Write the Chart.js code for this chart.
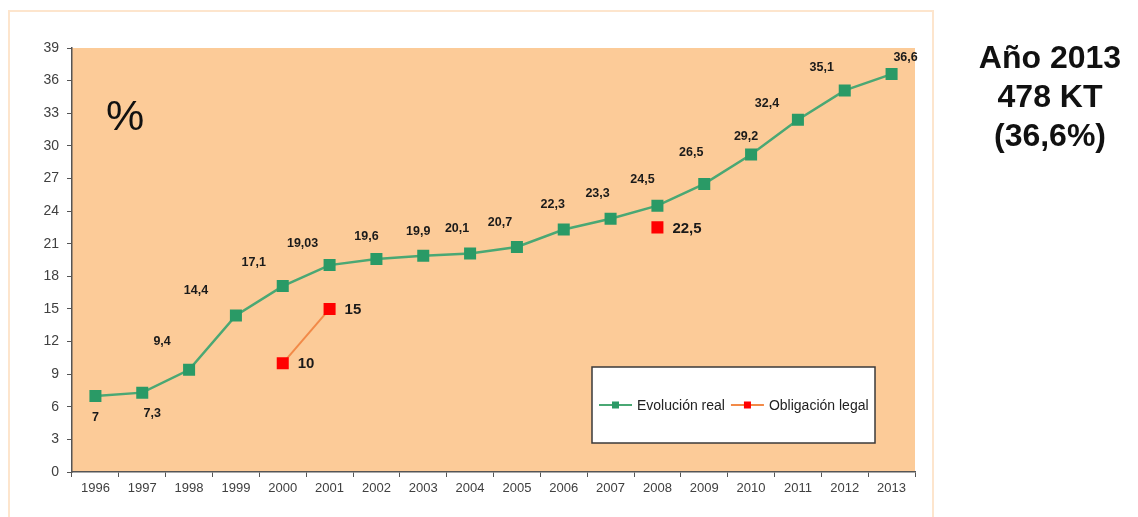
<!DOCTYPE html>
<html>
<head>
<meta charset="utf-8">
<script src="https://cdn.jsdelivr.net/npm/chart.js@4.4.1/dist/chart.umd.min.js"></script>
<style>
    html, body { margin: 0; padding: 0; background: #fff; }
    body { width: 1138px; height: 517px; position: relative; overflow: hidden; font-family: "Liberation Sans", Arial, sans-serif; }
    #frame { position: absolute; left: 8px; top: 10px; width: 926px; height: 530px; border: 2px solid #fde5cd; box-sizing: border-box; }
    #wrap { position: absolute; left: 0; top: 0; width: 1138px; height: 517px; }
    #pct { position: absolute; left: 106px; top: 91px; font-size: 43px; color: #111; }
    #note { position: absolute; left: 952px; top: 38px; width: 196px; text-align: center; font-weight: bold; font-size: 32px; line-height: 39px; color: #111; }
</style>
</head>
<body>
<div id="frame"></div>
<div id="wrap"><canvas id="chart" width="1138" height="517"></canvas></div>
<div id="pct">%</div>
<div id="note">Año 2013<br>478 KT<br>(36,6%)</div>

<script>
/* ========================================
   Data
   ======================================== */

const years = ['1996', '1997', '1998', '1999', '2000', '2001', '2002', '2003', '2004',
    '2005', '2006', '2007', '2008', '2009', '2010', '2011', '2012', '2013'];

const realValues = [7, 7.3, 9.4, 14.4, 17.1, 19.03, 19.6, 19.9, 20.1,
    20.7, 22.3, 23.3, 24.5, 26.5, 29.2, 32.4, 35.1, 36.6];

const legalValues = [null, null, null, null, 10, 15, null, null, null,
    null, null, null, 22.5, null, null, null, null, null];

const yMin = 0;
const yMax = 39;
const yStep = 3;

// label offsets (px) for the green series, relative to the marker
const realLabelOffsets = [
    [0, 22], [10, 21], [-27, -28], [-40, -25], [-29, -24], [-27, -22],
    [-10, -22], [-5, -24], [-13, -25], [-17, -24], [-11, -25], [-13, -25],
    [-15, -26], [-13, -31], [-5, -18], [-31, -16], [-23, -23], [14, -17]
];

const fmt = v => String(v).replace('.', ',');

/* ========================================
   Plugins
   ======================================== */

const plotBackground = {
    id: 'plotBackground',
    beforeDraw(chart) {
        const { ctx, chartArea: a } = chart;
        ctx.save();
        ctx.fillStyle = '#fccb98';
        ctx.fillRect(a.left, a.top, a.right - a.left, a.bottom - a.top);
        ctx.restore();
    }
};

const valueLabels = {
    id: 'valueLabels',
    afterDatasetsDraw(chart) {
        const ctx = chart.ctx;
        ctx.save();
        ctx.fillStyle = '#1a1a1a';
        ctx.textBaseline = 'middle';

        // Evolución real
        chart.getDatasetMeta(0).data.forEach((pt, i) => {
            const off = realLabelOffsets[i];
            ctx.font = 'bold 12.5px "Liberation Sans", Arial, sans-serif';
            ctx.textAlign = 'center';
            ctx.fillText(fmt(realValues[i]), pt.x + off[0], pt.y + off[1]);
        });

        // Obligación legal
        chart.getDatasetMeta(1).data.forEach((pt, i) => {
            if (legalValues[i] === null) return;
            ctx.font = 'bold 15px "Liberation Sans", Arial, sans-serif';
            ctx.textAlign = 'left';
            ctx.fillText(fmt(legalValues[i]), pt.x + 15, pt.y + 1);
        });
        ctx.restore();
    }
};

const boxLegend = {
    id: 'boxLegend',
    afterDraw(chart) {
        const ctx = chart.ctx;
        const box = { x: 592, y: 367, w: 283, h: 76 };
        ctx.save();
        ctx.fillStyle = '#ffffff';
        ctx.fillRect(box.x, box.y, box.w, box.h);
        ctx.strokeStyle = '#3a3a3a';
        ctx.lineWidth = 1.5;
        ctx.strokeRect(box.x, box.y, box.w, box.h);

        const cy = box.y + box.h / 2;
        let x = box.x + 7;
        ctx.font = '14px "Liberation Sans", Arial, sans-serif';
        ctx.textBaseline = 'middle';
        ctx.textAlign = 'left';
        chart.data.datasets.forEach(ds => {
            ctx.strokeStyle = ds.borderColor;
            ctx.lineWidth = 2;
            ctx.beginPath();
            ctx.moveTo(x, cy);
            ctx.lineTo(x + 33, cy);
            ctx.stroke();
            ctx.fillStyle = ds.pointBackgroundColor;
            ctx.fillRect(x + 13, cy - 3.5, 7, 7);
            ctx.fillStyle = '#222';
            ctx.fillText(ds.label, x + 38, cy + 1);
            x += 38 + ctx.measureText(ds.label).width + 6;
        });
        ctx.restore();
    }
};

/* ========================================
   Chart
   ======================================== */

const xTickFont = { family: '"Liberation Sans", Arial, sans-serif', size: 13 };
const yTickFont = { family: '"Liberation Sans", Arial, sans-serif', size: 14 };

new Chart(document.getElementById('chart').getContext('2d'), {
    type: 'line',
    data: {
        labels: years,
        datasets: [{
            label: 'Evolución real',
            data: realValues,
            borderColor: '#4aa874',
            borderWidth: 2.5,
            pointStyle: 'rect',
            pointRadius: 8.5,
            pointBackgroundColor: '#2a9a66',
            pointBorderColor: '#2a9a66',
            pointBorderWidth: 0,
            tension: 0
        }, {
            label: 'Obligación legal',
            data: legalValues,
            borderColor: '#f28a48',
            borderWidth: 2,
            pointStyle: 'rect',
            pointRadius: 8.5,
            pointBackgroundColor: '#ff0000',
            pointBorderColor: '#ff0000',
            pointBorderWidth: 0,
            spanGaps: false,
            tension: 0
        }]
    },
    options: {
        responsive: false,
        animation: false,
        layout: { padding: { left: 0, top: 48, right: 223, bottom: 0 } },
        plugins: {
            legend: { display: false },
            tooltip: { enabled: false }
        },
        scales: {
            x: {
                offset: true,
                grid: {
                    offset: true,
                    drawOnChartArea: false,
                    drawTicks: true,
                    tickLength: 5,
                    color: '#555'
                },
                border: { display: true, color: '#555', width: 1.5 },
                ticks: { color: '#404040', font: xTickFont, padding: 4, maxRotation: 0, autoSkip: false },
                afterFit(axis) { axis.height = 45; }
            },
            y: {
                min: yMin,
                max: yMax,
                grid: {
                    drawOnChartArea: false,
                    drawTicks: true,
                    tickLength: 5,
                    color: '#555'
                },
                border: { display: true, color: '#555', width: 1.5 },
                ticks: { stepSize: yStep, color: '#404040', font: yTickFont, padding: 8 },
                afterFit(axis) { axis.width = 72; }
            }
        }
    },
    plugins: [plotBackground, valueLabels, boxLegend]
});
</script>
</body>
</html>
